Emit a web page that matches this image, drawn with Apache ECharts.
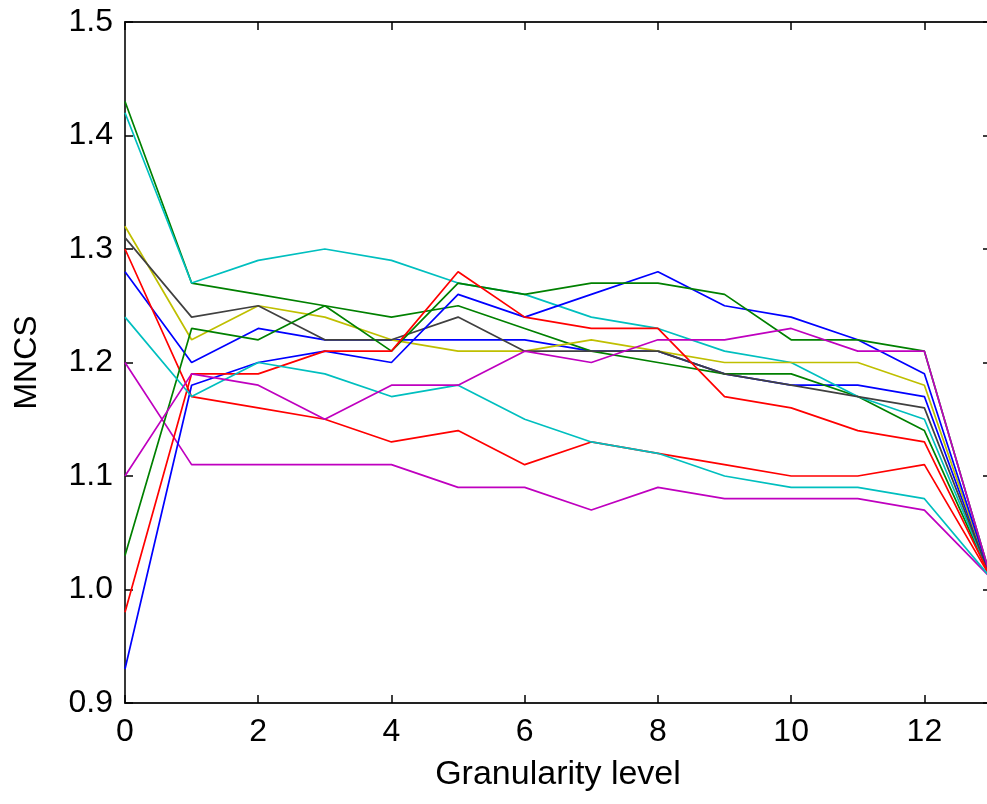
<!DOCTYPE html>
<html><head><meta charset="utf-8">
<script src="https://cdn.jsdelivr.net/npm/echarts@6/dist/echarts.min.js"></script>
<style>html,body{margin:0;padding:0;overflow:hidden;background:#fff}#c{width:1000px;height:804px}</style>
</head><body><div id="c"></div><script>
const levels = [0,1,2,3,4,5,6,7,8,9,10,11,12,13];
const yTicks = [0.9,1.0,1.1,1.2,1.3,1.4,1.5];
const blue1    = [1.28,1.20,1.23,1.22,1.22,1.22,1.22,1.21,1.21,1.19,1.18,1.18,1.17,1.01];
const green1   = [1.43,1.27,1.26,1.25,1.24,1.25,1.23,1.21,1.20,1.19,1.19,1.17,1.14,1.01];
const red1     = [1.30,1.17,1.16,1.15,1.13,1.14,1.11,1.13,1.12,1.11,1.10,1.10,1.11,1.01];
const cyan1    = [1.42,1.27,1.29,1.30,1.29,1.27,1.26,1.24,1.23,1.21,1.20,1.17,1.15,1.01];
const magenta1 = [1.20,1.11,1.11,1.11,1.11,1.09,1.09,1.07,1.09,1.08,1.08,1.08,1.07,1.01];
const yellow1  = [1.32,1.22,1.25,1.24,1.22,1.21,1.21,1.22,1.21,1.20,1.20,1.20,1.18,1.01];
const gray1    = [1.31,1.24,1.25,1.22,1.22,1.24,1.21,1.21,1.21,1.19,1.18,1.17,1.16,1.01];
const blue2    = [0.93,1.18,1.20,1.21,1.20,1.26,1.24,1.26,1.28,1.25,1.24,1.22,1.19,1.01];
const green2   = [1.03,1.23,1.22,1.25,1.21,1.27,1.26,1.27,1.27,1.26,1.22,1.22,1.21,1.01];
const red2     = [0.98,1.19,1.19,1.21,1.21,1.28,1.24,1.23,1.23,1.17,1.16,1.14,1.13,1.01];
const cyan2    = [1.24,1.17,1.20,1.19,1.17,1.18,1.15,1.13,1.12,1.10,1.09,1.09,1.08,1.01];
const magenta2 = [1.10,1.19,1.18,1.15,1.18,1.18,1.21,1.20,1.22,1.22,1.23,1.21,1.21,1.01];

const seriesList = [
  [blue1,'#0000ff'],[green1,'#008000'],[red1,'#ff0000'],[cyan1,'#00bfbf'],
  [magenta1,'#bf00bf'],[yellow1,'#bfbf00'],[gray1,'#404040'],
  [blue2,'#0000ff'],[green2,'#008000'],[red2,'#ff0000'],[cyan2,'#00bfbf'],[magenta2,'#bf00bf']
];

const font = 'Liberation Sans, Arial, sans-serif';
const chart = echarts.init(document.getElementById('c'), null, {renderer:'canvas'});
const axisCommon = {
  axisLine:{show:true,onZero:false,lineStyle:{color:'#222',width:1.8}},
  axisTick:{show:true,inside:true,length:8,lineStyle:{color:'#000',width:1.5}},
  splitLine:{show:false}
};
chart.setOption({
  animation:false,
  backgroundColor:'#fff',
  grid:{left:125,right:9,top:22,bottom:101},
  xAxis:[
    Object.assign({type:'value',min:0,max:13,interval:2,position:'bottom',
      name:'Granularity level',nameLocation:'middle',nameGap:55,
      nameTextStyle:{fontFamily:font,fontSize:34,color:'#000'},
      axisLabel:{fontFamily:font,fontSize:32,color:'#000',margin:13,showMaxLabel:false}
    },axisCommon),
    Object.assign({type:'value',min:0,max:13,interval:2,position:'top',
      axisLabel:{show:false}},axisCommon)
  ],
  yAxis:[
    Object.assign({type:'value',min:yTicks[0],max:yTicks[yTicks.length-1],interval:0.1,position:'left',
      name:'MNCS',nameLocation:'middle',nameGap:82,
      nameTextStyle:{fontFamily:font,fontSize:32,color:'#000'},
      axisLabel:{fontFamily:font,fontSize:32,color:'#000',margin:12,formatter:v=>v.toFixed(1)}
    },axisCommon),
    Object.assign({type:'value',min:yTicks[0],max:yTicks[yTicks.length-1],interval:0.1,position:'right',
      axisLabel:{show:false}},axisCommon)
  ],
  series: seriesList.map(([vals,color])=>({
    type:'line',xAxisIndex:0,yAxisIndex:0,
    data: levels.map((x,i)=>[x,vals[i]]),
    showSymbol:false,symbol:'none',
    lineStyle:{color:color,width:1.7},
    itemStyle:{color:color}
  }))
});
</script></body></html>
